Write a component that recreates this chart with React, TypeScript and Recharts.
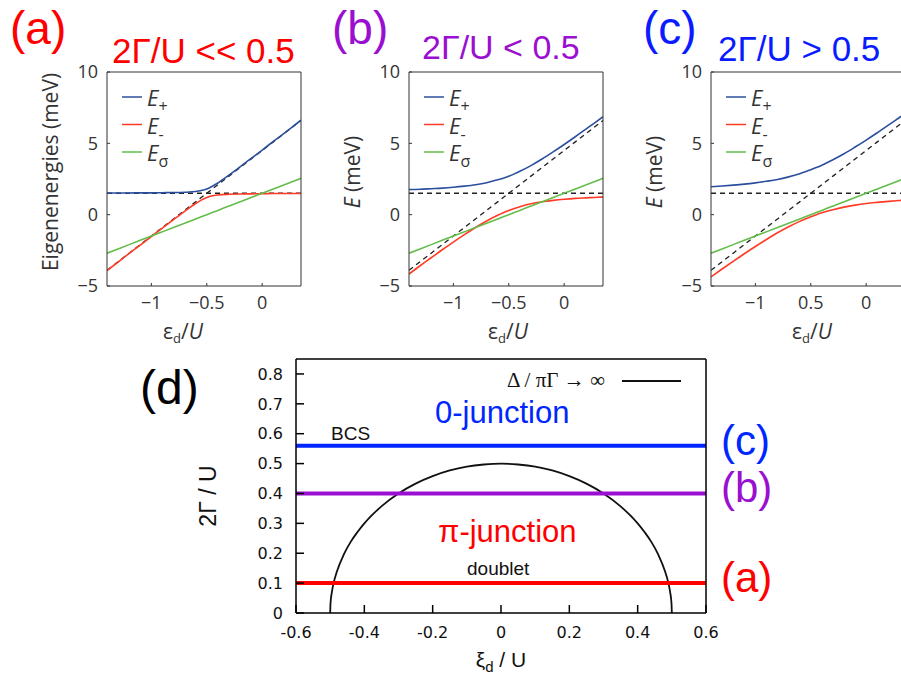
import React from 'react';
import { LineChart, Line, XAxis, YAxis, ReferenceLine, Legend } from 'recharts';

// ---- top panels: eigenenergies vs eps_d / U ----
const EPS_D = [-1.4, -1.3, -1.2, -1.1, -1.0, -0.9, -0.8, -0.7, -0.6, -0.55, -0.5, -0.45, -0.4, -0.3, -0.2, -0.1, 0, 0.1, 0.2, 0.3, 0.35];
const DIAG_ASYMPTOTE = [-3.9, -3.3, -2.7, -2.1, -1.5, -0.9, -0.3, 0.3, 0.9, 1.2, 1.5, 1.8, 2.1, 2.7, 3.3, 3.9, 4.5, 5.1, 5.7, 6.3, 6.6];
const FLAT_ASYMPTOTE = 1.5;
const E_SIGMA = [-2.7, -2.4, -2.1, -1.8, -1.5, -1.2, -0.9, -0.6, -0.3, -0.15, 0, 0.15, 0.3, 0.6, 0.9, 1.2, 1.5, 1.8, 2.1, 2.4, 2.55];

const A_PLUS = [1.52, 1.52, 1.52, 1.53, 1.53, 1.54, 1.55, 1.57, 1.62, 1.69, 1.8, 1.99, 2.22, 2.77, 3.35, 3.94, 4.53, 5.13, 5.72, 6.32, 6.62];
const A_MINUS = [-3.92, -3.32, -2.72, -2.13, -1.53, -0.94, -0.35, 0.23, 0.78, 1.02, 1.2, 1.32, 1.38, 1.43, 1.45, 1.46, 1.47, 1.48, 1.48, 1.48, 1.48];
const B_PLUS = [1.76, 1.78, 1.82, 1.86, 1.92, 2.0, 2.1, 2.24, 2.44, 2.56, 2.7, 2.86, 3.04, 3.44, 3.9, 4.4, 4.92, 5.46, 6.02, 6.58, 6.87];
const B_MINUS = [-4.16, -3.58, -3.02, -2.46, -1.92, -1.4, -0.9, -0.44, -0.04, 0.14, 0.3, 0.44, 0.56, 0.76, 0.9, 1.0, 1.08, 1.14, 1.18, 1.22, 1.23];
const C_PLUS = [1.96, 2.01, 2.07, 2.14, 2.23, 2.34, 2.47, 2.65, 2.87, 3.0, 3.14, 3.3, 3.47, 3.85, 4.27, 4.74, 5.23, 5.74, 6.27, 6.81, 7.08];
const C_MINUS = [-4.36, -3.81, -3.27, -2.74, -2.23, -1.74, -1.27, -0.85, -0.47, -0.3, -0.14, 0.0, 0.13, 0.35, 0.53, 0.67, 0.78, 0.86, 0.93, 0.99, 1.02];

const TOP_X_TICKS = [-1, -0.5, 0];
const TOP_Y_TICKS = [-5, 0, 5, 10];
const C_X_TICK_LABELS = ['−1', '0.5', '0'];

// ---- panel (d): phase diagram ----
const XI_D = [-0.5, -0.499, -0.495, -0.49, -0.48, -0.46, -0.44, -0.42, -0.4, -0.35, -0.3, -0.25, -0.2, -0.15, -0.1, -0.05, 0,
  0.05, 0.1, 0.15, 0.2, 0.25, 0.3, 0.35, 0.4, 0.42, 0.44, 0.46, 0.48, 0.49, 0.495, 0.499, 0.5];
const ARC_2G = [0, 0.032, 0.07, 0.1, 0.14, 0.196, 0.238, 0.271, 0.3, 0.357, 0.4, 0.433, 0.458, 0.477, 0.49, 0.497, 0.5,
  0.497, 0.49, 0.477, 0.458, 0.433, 0.4, 0.357, 0.3, 0.271, 0.238, 0.196, 0.14, 0.1, 0.07, 0.032, 0];
const LEVEL_VALUES = [0.1, 0.4, 0.56];
const LEVEL_TAGS = ['(a)', '(b)', '(c)'];
const LEVEL_COLORS = ['#ff0000', '#9a0fd0', '#0026ff'];
const D_X_TICKS = [-0.6, -0.4, -0.2, 0, 0.2, 0.4, 0.6];
const D_Y_TICKS = [0, 0.1, 0.2, 0.3, 0.4, 0.5, 0.6, 0.7, 0.8];

const SANS = '"Open Sans", "Noto Sans", sans-serif';
const ARIAL = '"Liberation Sans", Arial, sans-serif';
const GRAY = '#333';

const minus = (v: number) => String(v).replace('-', '−');

const EnergyLegend = (props: any) => {
  const items = (props.payload ?? []).filter((p: any) => ['+', '-', 'σ'].includes(p.value));
  return (
    <svg width={90} height={90} style={{ display: 'block', overflow: 'visible' }}>
      {items.map((p: any, i: number) => (
        <g key={i} transform={`translate(0, ${i * 27.5})`}>
          <line x1={0} x2={20} y1={10} y2={10} stroke={p.color} strokeWidth={1.5} />
          <text x={25} y={19} fontFamily={SANS} fontSize={22} fill={GRAY}>
            <tspan fontStyle="italic">E</tspan>
            <tspan fontSize={16} dy={6}>{p.value}</tspan>
          </text>
        </g>
      ))}
    </svg>
  );
};

function EnergyPanel({ left, plotLeft, width, plus, minusBranch, xLabels, yTitle, xTitleDx }: any) {
  const data = EPS_D.map((x, i) => ({ x, plus: plus[i], minus: minusBranch[i], sigma: E_SIGMA[i], diag: DIAG_ASYMPTOTE[i] }));
  const plotW = 194;
  const fmtX = (v: number) => {
    const i = TOP_X_TICKS.indexOf(v);
    return xLabels ? xLabels[i] : minus(v);
  };
  return (
    <div style={{ position: 'absolute', left, top: 0 }}>
      <LineChart width={width} height={352} data={data}
        margin={{ top: 71, left: plotLeft - 1, right: width - plotLeft - plotW - 1, bottom: 65 }}>
        <XAxis xAxisId={0} dataKey="x" type="number" domain={[-1.4, 0.35]} allowDataOverflow ticks={TOP_X_TICKS}
          height={1} tickSize={-3} tickMargin={13} tickFormatter={fmtX}
          stroke={GRAY} tick={{ fill: GRAY, fontSize: 18, fontFamily: SANS }}
          label={{ content: () => (
            <text x={plotLeft + xTitleDx} y={339} textAnchor="middle" fontFamily={SANS} fontSize={21} fill={GRAY}>
              ε<tspan fontSize={13} dy={4}>d</tspan><tspan dy={-4}>/</tspan><tspan fontStyle="italic">U</tspan>
            </text>
          ) }} />
        <XAxis xAxisId="top" orientation="top" type="number" domain={[-1.4, 0.35]} allowDataOverflow ticks={TOP_X_TICKS}
          height={1} tickSize={-3} tick={false} stroke={GRAY} />
        <YAxis yAxisId={0} type="number" domain={[-5, 10]} allowDataOverflow ticks={TOP_Y_TICKS}
          width={1} tickSize={-3} tickMargin={12} tickFormatter={minus}
          stroke={GRAY} tick={{ fill: GRAY, fontSize: 18, fontFamily: SANS }}
          label={{ content: () => (
            <text transform={`translate(${plotLeft - 57}, 172) rotate(-90)`} textAnchor="middle" dominantBaseline="central"
              fontFamily={SANS} fontSize={21} fill={GRAY}>
              {yTitle === 'E' ? (<><tspan fontStyle="italic">E</tspan> (meV)</>) : yTitle}
            </text>
          ) }} />
        <YAxis yAxisId="right" orientation="right" type="number" domain={[-5, 10]} allowDataOverflow ticks={TOP_Y_TICKS}
          width={1} tickSize={-3} tick={false} stroke={GRAY} />
        <ReferenceLine y={FLAT_ASYMPTOTE} stroke="#222" strokeWidth={1.4} strokeDasharray="5 4" />
        <Line dataKey="diag" legendType="none" stroke="#222" strokeWidth={1.4} strokeDasharray="5 4" dot={false} isAnimationActive={false} />
        <Line dataKey="plus" name="+" type="monotone" stroke="#2b4f9e" strokeWidth={1.6} dot={false} isAnimationActive={false} />
        <Line dataKey="minus" name="-" type="monotone" stroke="#ff3b26" strokeWidth={1.6} dot={false} isAnimationActive={false} />
        <Line dataKey="sigma" name="σ" type="monotone" stroke="#62bd49" strokeWidth={1.6} dot={false} isAnimationActive={false} />
        <Legend content={EnergyLegend} wrapperStyle={{ left: plotLeft + 15, top: 87, width: 0, height: 0, overflow: 'visible' }} />
      </LineChart>
    </div>
  );
}

function PhasePanel() {
  const data = XI_D.map((x, i) => ({ x, arc: ARC_2G[i] }));
  const fmt = (v: number) => String(v);
  return (
    <div style={{ position: 'absolute', left: 0, top: 340 }}>
      <LineChart width={901} height={344} data={data} margin={{ top: 18, left: 295, right: 194, bottom: 70 }}>
        <XAxis xAxisId={0} dataKey="x" type="number" domain={[-0.6, 0.6]} allowDataOverflow ticks={D_X_TICKS}
          height={1} tickSize={-8} tickMargin={22} tickFormatter={fmt}
          stroke="#000" strokeWidth={1.5} tick={{ fill: '#111', fontSize: 16, fontFamily: '"DejaVu Sans", sans-serif' }} />
        <XAxis xAxisId="top" orientation="top" type="number" domain={[-0.6, 0.6]} allowDataOverflow ticks={D_X_TICKS}
          height={1} tickSize={-8} tick={false} stroke="#000" strokeWidth={1.5} />
        <YAxis yAxisId={0} type="number" domain={[0, 0.85]} allowDataOverflow ticks={D_Y_TICKS}
          width={1} tickSize={-8} tickMargin={21} tickFormatter={fmt}
          stroke="#000" strokeWidth={1.5} tick={{ fill: '#111', fontSize: 16, fontFamily: '"DejaVu Sans", sans-serif' }} />
        <YAxis yAxisId="right" orientation="right" type="number" domain={[0, 0.85]} allowDataOverflow ticks={D_Y_TICKS}
          width={1} tickSize={-8} tick={false} stroke="#000" strokeWidth={1.5} />
        <Line dataKey="arc" name="Δ / πΓ → ∞" type="monotone" stroke="#111" strokeWidth={1.8} dot={false} isAnimationActive={false} />
        {LEVEL_VALUES.map((y, i) => (
          <ReferenceLine key={i} y={y} stroke={LEVEL_COLORS[i]} strokeWidth={4}
            label={{ value: LEVEL_TAGS[i], position: 'right', offset: 15, dy: -6, fill: LEVEL_COLORS[i], fontSize: 42, fontFamily: ARIAL }} />
        ))}
        <Legend content={(p: any) => (
          <svg width={180} height={24} style={{ display: 'block', overflow: 'visible' }}>
            <text x={0} y={18} fontFamily='"Liberation Serif", "DejaVu Serif", serif' fontSize={21} fill="#111">{p.payload?.[0]?.value}</text>
            <line x1={115} x2={174} y1={12} y2={12} stroke="#111" strokeWidth={1.8} />
          </svg>
        )} wrapperStyle={{ left: 507, top: 29, width: 0, height: 0, overflow: 'visible' }} />
      </LineChart>
    </div>
  );
}

export default function App() {
  return (
    <div style={{ position: 'fixed', left: 0, top: 0, width: 901, height: 684, overflow: 'hidden', background: '#fff' }}>
      <EnergyPanel left={0} plotLeft={107} width={310} plus={A_PLUS} minusBranch={A_MINUS}
        yTitle="Eigenenergies (meV)" xTitleDx={76} />
      <EnergyPanel left={300} plotLeft={109} width={310} plus={B_PLUS} minusBranch={B_MINUS}
        yTitle="E" xTitleDx={99} />
      <EnergyPanel left={600} plotLeft={111} width={320} plus={C_PLUS} minusBranch={C_MINUS}
        yTitle="E" xTitleDx={101} xLabels={C_X_TICK_LABELS} />
      <PhasePanel />
      <svg width={901} height={684} style={{ position: 'absolute', left: 0, top: 0, pointerEvents: 'none' }}>
        <g fontFamily={ARIAL}>
          <text x={10} y={44} fontSize={46} fill="#ff0000">(a)</text>
          <text x={112} y={63} fontSize={35} fill="#ff0000">2Γ/U &lt;&lt; 0.5</text>
          <text x={332} y={44} fontSize={46} fill="#9a0fd0">(b)</text>
          <text x={422} y={59} fontSize={34} fill="#9a0fd0">2Γ/U &lt; 0.5</text>
          <text x={643} y={44} fontSize={46} fill="#0a1cff">(c)</text>
          <text x={718} y={61} fontSize={35} fill="#0a1cff">2Γ/U &gt; 0.5</text>
          <text x={140} y={404} fontSize={48} fill="#000">(d)</text>
          <text x={435} y={423} fontSize={31} fill="#0026ff">0-junction</text>
          <text x={438} y={542} fontSize={31} fill="#ff0000">π-junction</text>
          <text x={331} y={440} fontSize={19} fill="#111">BCS</text>
          <text x={467} y={575} fontSize={19} fill="#111">doublet</text>
          <text transform="translate(208, 496) rotate(-90)" textAnchor="middle" dominantBaseline="central" fontSize={23} fill="#111">2Γ  / U</text>
          <text x={501} y={667} textAnchor="middle" fontSize={21} fill="#111">
            ξ<tspan fontSize={15} dy={5}>d</tspan><tspan dy={-5}> / U</tspan>
          </text>
        </g>
      </svg>
    </div>
  );
}
